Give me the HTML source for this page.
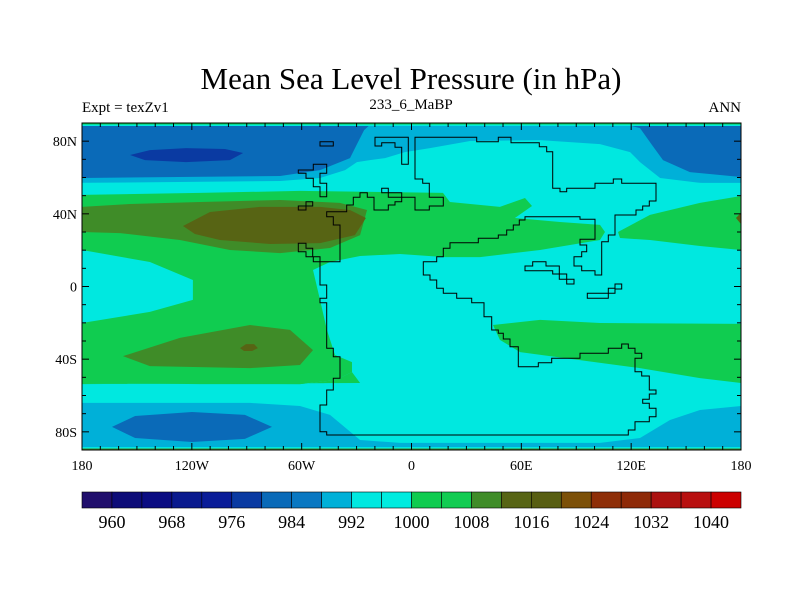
<!DOCTYPE html>
<html><head><meta charset="utf-8">
<style>
html,body{margin:0;padding:0;background:#fff;}
svg text{font-family:"Liberation Serif",serif;fill:#000;}
</style></head>
<body>
<svg id="chart" width="800" height="600" viewBox="0 0 800 600" xmlns="http://www.w3.org/2000/svg">
<text x="411" y="89" font-size="31" text-anchor="middle">Mean Sea Level Pressure (in hPa)</text>
<text x="82" y="112" font-size="15">Expt = texZv1</text>
<text x="411" y="109" font-size="15" text-anchor="middle">233_6_MaBP</text>
<text x="741" y="112" font-size="15" text-anchor="end">ANN</text>
<defs><clipPath id="mapclip"><rect x="82" y="123" width="659" height="327"/></clipPath></defs>
<g id="fields" clip-path="url(#mapclip)"></g>
<g id="coast" clip-path="url(#mapclip)"></g>
<g id="axes"></g>
<g id="cbar"></g>
</svg>
<script>
// ---- colour bar data ----
const levels = [960,964,968,972,976,980,984,988,992,996,1000,1004,1008,1012,1016,1020,1024,1028,1032,1036,1040];
const levelColors = ["#200e6c","#0d0c78","#0b0c82","#0a1a8e","#0a1c98","#0a3aa2","#0a6ab8","#0a78c2","#00b0d8","#00e8e0","#00ecdf","#10cc50","#12cc52","#3f8c28","#576414","#585e12","#7c5008","#8e2e08","#8e2a08","#ac1210","#b81010","#cc0000"];
const cbarLabels = ["960","968","976","984","992","1000","1008","1016","1024","1032","1040"];
// ---- map axes ----
const latTicks = [80,40,0,-40,-80];
const latTickLabels = ["80N","40N","0","40S","80S"];
const lonTicks = [-180,-120,-60,0,60,120,180];
const lonTickLabels = ["180","120W","60W","0","60E","120E","180"];
const X0=82,X1=741,Y0=123,Y1=450;
function xLon(lon){return X0+(lon+180)/360*(X1-X0);}
function yLat(lat){return Y0+(90-lat)/180*(Y1-Y0);}
function lonOf(x){return (x-X0)/(X1-X0)*360-180;}
function latOf(y){return 90-(y-Y0)/(Y1-Y0)*180;}
function ll(pts){const r=[];for(let i=0;i<pts.length;i+=2)r.push([+lonOf(pts[i]).toFixed(1),+latOf(pts[i+1]).toFixed(1)]);return r;}
const regionLevels = [8,6,6,5,9,11,9,13,14,13,14,11,11,11,14,14,8,6];
const regionRings = [
 ll([82,123,741,123,741,185,700,183,660,178,640,162,630,152,600,144,540,140,470,141,430,148,405,152,385,158,370,160,357,162,345,170,320,178,280,181,82,183]),
 ll([82,123,372,123,364,130,358,142,350,158,320,170,280,176,82,178]),
 ll([620,123,741,123,741,177,690,172,663,160,652,145,640,128]),
 ll([130,155,150,150,186,148,225,149,243,153,230,160,186,162,145,160]),
 ll([82,183,741,183,741,450,82,450]),
 ll([82,195,200,193,300,191,443,193,450,202,500,207,525,198,532,206,515,218,560,222,600,225,605,232,600,240,540,250,480,257,445,257,400,254,360,256,330,262,313,270,320,300,327,330,335,355,352,362,352,372,335,380,300,384,200,384,82,383]),
 ll([82,250,150,262,193,280,193,300,150,312,82,323]),
 ll([82,207,130,204,200,202,280,200,340,203,367,210,360,235,330,248,280,253,230,250,180,240,120,233,82,232]),
 ll([183,226,210,212,260,207,320,207,350,210,366,218,355,235,320,243,270,244,220,240,195,234]),
 ll([123,356,180,338,250,325,290,330,313,350,300,365,250,368,150,366]),
 ll([240,348,246,344,254,344,258,348,252,351,244,351]),
 ll([618,232,650,215,700,203,741,196,741,250,700,246,650,240,620,238]),
 ll([493,325,540,320,600,323,741,324,741,383,700,378,640,368,580,360,520,352,500,340]),
 ll([82,383,300,384,335,380,352,372,360,383,82,384]),
 ll([736,218,741,213,741,224]),
 ll([736,218,741,213,741,224]),
 ll([82,403,250,403,300,406,330,415,360,440,400,443,600,443,640,438,670,420,700,410,741,406,741,450,82,450]),
 ll([112,427,135,416,192,412,245,415,272,427,245,439,192,442,135,438])
];
function zz(pts){const r=[];for(let i=0;i<pts.length;i+=2)r.push([+lonOf(280+pts[i]/3).toFixed(2),+latOf(120+pts[i+1]/3).toFixed(2)]);return r;}
const coastRings = [
 zz([405,52,590,52,590,65,655,65,655,52,693,52,693,68,778,68,778,80,800,80,800,95,818,95,818,205,840,205,840,215,860,215,860,205,945,205,945,190,1000,190,1000,177,1025,177,1025,190,1128,190,1128,243,1108,243,1108,258,1088,258,1088,270,1068,270,1068,285,1005,285,1005,345,985,345,985,365,965,365,965,465,945,465,945,452,905,452,905,438,882,438,882,410,905,410,905,395,920,395,920,375,900,375,900,358,945,358,945,298,900,298,900,290,735,290,735,300,718,300,718,315,700,315,700,330,680,330,680,345,655,345,655,355,595,355,595,368,510,368,510,385,490,385,490,410,470,410,470,425,430,425,430,465,450,465,450,480,470,480,470,505,490,505,490,520,530,520,530,535,575,535,575,548,612,548,612,590,635,590,635,630,655,630,655,640,670,640,670,657,690,657,690,680,715,680,715,740,775,740,775,728,815,728,815,715,900,715,900,700,985,700,985,685,1025,685,1025,672,1045,672,1045,685,1065,685,1065,700,1085,700,1085,715,1065,715,1065,755,1085,755,1085,768,1108,768,1108,810,1128,810,1128,822,1108,822,1108,838,1088,838,1088,850,1108,850,1108,865,1128,865,1128,890,1108,890,1108,905,1065,905,1065,930,1045,930,1045,945,140,945,140,935,120,935,120,855,140,855,140,810,160,810,160,775,180,775,180,710,160,710,160,685,140,685,140,548,120,548,120,535,140,535,140,495,120,495,120,425,180,425,180,315,160,315,160,290,140,290,140,275,200,275,200,255,220,255,220,232,240,232,240,218,262,218,262,232,282,232,282,270,325,270,325,255,345,255,345,245,365,245,365,232,405,232,405,270,448,270,448,258,490,258,490,232,448,232,448,190,428,190,428,177,405,177]),
 zz([55,370,78,370,78,385,98,385,98,410,120,410,120,425,100,425,100,410,78,410,78,395,55,395]),
 zz([285,52,385,52,385,133,365,133,365,82,345,82,345,68,305,68,305,78,285,78]),
 zz([120,65,160,65,160,78,120,78]),
 zz([100,133,140,133,140,160,120,160,120,190,140,190,140,230,120,230,120,200,100,200,100,175,78,175,78,160,55,160,55,150,100,150]),
 zz([55,258,78,258,78,245,98,245,98,258,78,258,78,270,55,270]),
 zz([305,205,325,205,325,218,365,218,365,232,325,232,325,218,305,218]),
 zz([735,438,758,438,758,425,798,425,798,438,838,438,838,462,860,462,860,478,882,478,882,492,860,492,860,478,838,478,838,462,818,462,818,452,735,452]),
 zz([922,520,985,520,985,505,1005,505,1005,492,1025,492,1025,507,1005,507,1005,520,985,520,985,535,922,535])
];
const NS="http://www.w3.org/2000/svg";
function mk(tag,attrs,parent){const e=document.createElementNS(NS,tag);for(const k in attrs)e.setAttribute(k,attrs[k]);parent.appendChild(e);return e;}
function ringPath(r,close){return r.map((p,i)=>(i?"L":"M")+xLon(p[0]).toFixed(1)+","+yLat(p[1]).toFixed(1)).join("")+(close?"Z":"");}
const fields=document.getElementById("fields");
const bg=mk("rect",{x:X0,y:Y0,width:X1-X0,height:Y1-Y0,fill:levelColors[9]},fields);


regionRings.forEach((r,i)=>{
  const p=mk("path",{d:ringPath(r,true),fill:levelColors[regionLevels[i]]},fields);
  
  
});
const topStrip=mk("rect",{x:X0,y:Y0,width:X1-X0,height:3,fill:levelColors[9]},fields);


const topEdge=mk("rect",{x:X0,y:Y0,width:X1-X0,height:1.5,fill:levelColors[11]},fields);


const botStrip=mk("rect",{x:X0,y:Y1-3,width:X1-X0,height:3,fill:levelColors[9]},fields);


const botEdge=mk("rect",{x:X0,y:Y1-1.5,width:X1-X0,height:1.5,fill:levelColors[13]},fields);


const coast=document.getElementById("coast");
coastRings.forEach(r=>{
  const p=mk("path",{d:ringPath(r,true),fill:"none",stroke:"#000","stroke-width":"1"},coast);
  
  
});
const axes=document.getElementById("axes");
const frame=mk("rect",{x:X0,y:Y0,width:X1-X0,height:Y1-Y0,fill:"none",stroke:"#000","stroke-width":"1"},axes);


for(let lat=-80;lat<=80;lat+=10){
  const y=yLat(lat),L=latTicks.includes(lat)?7:4;
  const t1=mk("line",{x1:X0,x2:X0+L,y1:y,y2:y,stroke:"#000"},axes);
  
  
  const t2=mk("line",{x1:X1,x2:X1-L,y1:y,y2:y,stroke:"#000"},axes);
  
  
}
for(let lon=-170;lon<=170;lon+=10){
  const x=xLon(lon),L=lonTicks.includes(lon)?7:4;
  const t1=mk("line",{x1:x,x2:x,y1:Y0,y2:Y0+L,stroke:"#000"},axes);
  
  
  const t2=mk("line",{x1:x,x2:x,y1:Y1,y2:Y1-L,stroke:"#000"},axes);
  
  
}
latTicks.forEach((lat,i)=>{
  const t=mk("text",{x:X0-5,y:yLat(lat)+5,"font-size":"14","text-anchor":"end"},axes);
  t.textContent=latTickLabels[i];
  
  
});
lonTicks.forEach((lon,i)=>{
  const t=mk("text",{x:xLon(lon),y:470,"font-size":"14","text-anchor":"middle"},axes);
  t.textContent=lonTickLabels[i];
  
  
});
const cb=document.getElementById("cbar");
const CB0=82,CB1=741,CBY=492,CBH=16,bw=(CB1-CB0)/levelColors.length;
levelColors.forEach((c,i)=>{
  const r=mk("rect",{x:CB0+i*bw,y:CBY,width:bw,height:CBH,fill:c,stroke:"#000","stroke-width":"0.6"},cb);
  
  
});
cbarLabels.forEach(lbl=>{
  const idx=levels.indexOf(+lbl)+1;
  const t=mk("text",{x:CB0+idx*bw,y:528,"font-size":"18","text-anchor":"middle"},cb);
  t.textContent=lbl;
  
  
});
</script>
</body></html>
